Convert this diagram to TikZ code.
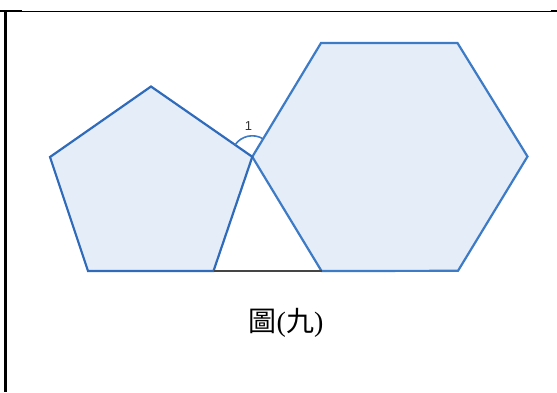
\documentclass[tikz,border=0pt]{standalone}
\usepackage{fontspec}
\setmainfont{Liberation Serif}
\newfontfamily\cjk{Noto Sans CJK TC}
\newfontfamily\lsans{Liberation Sans}
\definecolor{hedge}{HTML}{3D7BC6}
\definecolor{pedge}{HTML}{2F6BBA}
\definecolor{fillb}{HTML}{E4EDF8}
\definecolor{basec}{HTML}{454545}
\tikzset{
  shapeline/.style={line width=2.2pt, line join=miter},
  border/.style={black, line width=1pt},
}
\begin{document}
\begin{tikzpicture}[x=1pt,y=-1pt]
\useasboundingbox (0,0) rectangle (557,392);
% pentagon
\coordinate (pBL) at (88,271);
\coordinate (pBR) at (213.5,271);
\coordinate (apex) at (252.3,156.8);
\coordinate (pT) at (151,86.5);
\coordinate (pL) at (50,157);
% hexagon
\coordinate (hTL) at (321,43);
\coordinate (hTR) at (457.5,43);
\coordinate (hR) at (527.5,156.5);
\coordinate (hBR) at (458,270.8);
\coordinate (hBL) at (321.5,271);
% fills
\fill[fillb] (pBL) -- (pBR) -- (apex) -- (pT) -- (pL) -- cycle;
\fill[fillb] (apex) -- (hTL) -- (hTR) -- (hR) -- (hBR) -- (hBL) -- cycle;
% outlines
\draw[hedge, shapeline] (apex) -- (hTL) -- (hTR) -- (hR) -- (hBR) -- (hBL) -- cycle;
\draw[pedge, shapeline] (pBL) -- (pBR) -- (apex) -- (pT) -- (pL) -- cycle;
\draw[basec, line width=2.2pt] (pBR) -- (hBL);
% angle 1 (y axis points down, so screen angles are negated)
\draw[hedge, line width=1.6pt] (apex) ++(-58.7:21) arc[start angle=-58.7, end angle=-145.3, radius=21];
\node[text=black!80, font=\lsans\fontsize{13}{13}\selectfont] (lab1) at (248.5,126) {1};
% caption
\node[font=\fontsize{28}{28}\selectfont, inner sep=0pt] (cap) at (286,323) {{\cjk 圖}({\cjk 九})};
% table borders
\coordinate (tl) at (0,11);
\coordinate (tr) at (557,11);
\coordinate (vl) at (5.5,10.5);
\coordinate (vb) at (5.5,392);
\draw[border] (tl) -- (tr);
\draw[black, line width=2pt] (0,11) -- (22,11);
\draw[black, line width=2pt] (550.5,11) -- (557,11);
\draw[black, line width=2.4pt] (vl) -- (vb);
\end{tikzpicture}
\end{document}
